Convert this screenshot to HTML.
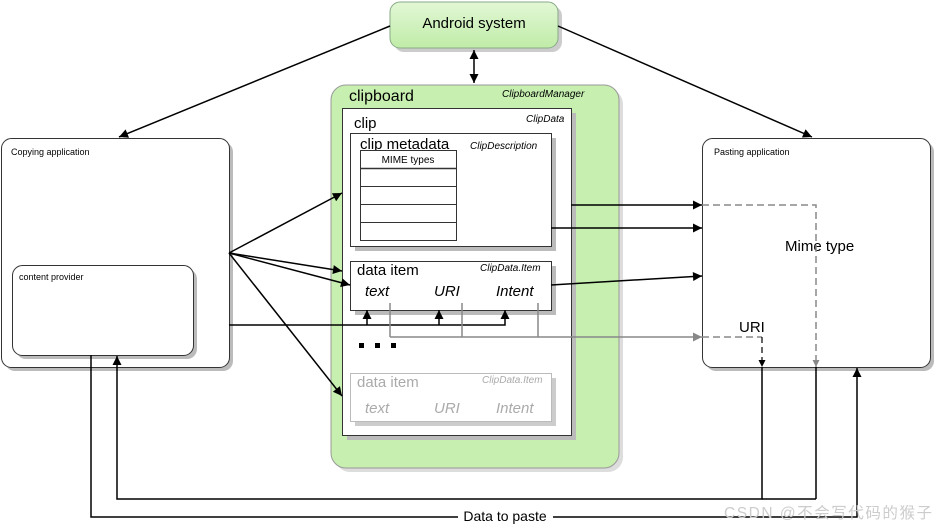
<!DOCTYPE html>
<html><head><meta charset="utf-8"><style>
html,body{margin:0;padding:0;background:#fff;}
svg{display:block;font-family:"Liberation Sans",Arial,sans-serif;}
</style></head><body>
<svg width="936" height="527" viewBox="0 0 936 527" xmlns="http://www.w3.org/2000/svg">
<defs>
<marker id="a" viewBox="0 0 10 10" refX="10" refY="5" markerWidth="12" markerHeight="9" markerUnits="userSpaceOnUse" orient="auto"><path d="M0,0L10,5L0,10z" fill="#000"/></marker>
<marker id="ab" viewBox="0 0 10 10" refX="0" refY="5" markerWidth="12" markerHeight="9" markerUnits="userSpaceOnUse" orient="auto"><path d="M10,0L0,5L10,10z" fill="#000"/></marker>
<marker id="g" viewBox="0 0 10 10" refX="10" refY="5" markerWidth="12" markerHeight="9" markerUnits="userSpaceOnUse" orient="auto"><path d="M0,0L10,5L0,10z" fill="#888"/></marker>
<marker id="s" viewBox="0 0 10 10" refX="10" refY="5" markerWidth="7" markerHeight="7" markerUnits="userSpaceOnUse" orient="auto"><path d="M0,0L10,5L0,10z" fill="#000"/></marker>
<marker id="sg" viewBox="0 0 10 10" refX="10" refY="5" markerWidth="7" markerHeight="7" markerUnits="userSpaceOnUse" orient="auto"><path d="M0,0L10,5L0,10z" fill="#888"/></marker>
<linearGradient id="gr" x1="0" y1="0" x2="0" y2="1"><stop offset="0" stop-color="#e2f7d5"/><stop offset="1" stop-color="#c0eca8"/></linearGradient>
</defs>
<rect x="394" y="6" width="168" height="46" rx="10" fill="#ccc"/>
<rect x="390" y="2" width="168" height="46" rx="10" fill="url(#gr)" stroke="#8a8" stroke-width="1"/>
<text x="474" y="28" font-size="15" text-anchor="middle">Android system</text>
<line x1="390" y1="26" x2="119" y2="137" stroke="#000" stroke-width="1.5" marker-end="url(#a)"/>
<line x1="558" y1="26" x2="812" y2="137" stroke="#000" stroke-width="1.5" marker-end="url(#a)"/>
<line x1="474" y1="50" x2="474" y2="83" stroke="#000" stroke-width="1.5" marker-end="url(#a)" marker-start="url(#ab)"/>
<rect x="335" y="89" width="288" height="383" rx="15" fill="#ddd"/>
<rect x="331" y="85" width="288" height="383" rx="15" fill="#c6efb0" stroke="#999"/>
<text x="349" y="101" font-size="16">clipboard</text>
<text x="502" y="97" font-size="10" font-style="italic">ClipboardManager</text>
<rect x="347" y="113" width="229" height="327" fill="#bbb"/>
<rect x="342.5" y="108.5" width="229" height="327" fill="#fff" stroke="#333"/>
<text x="354" y="128" font-size="15">clip</text>
<text x="526" y="122" font-size="10" font-style="italic">ClipData</text>
<rect x="355" y="138" width="201" height="113" fill="#bbb"/>
<rect x="350.5" y="133.5" width="201" height="113" fill="#fff" stroke="#333"/>
<text x="360" y="149" font-size="15">clip metadata</text>
<text x="470" y="149" font-size="10" font-style="italic">ClipDescription</text>
<rect x="360.5" y="150.5" width="96" height="90" fill="#fff" stroke="#333"/>
<line x1="360" y1="168.5" x2="457" y2="168.5" stroke="#333" stroke-width="1.5"/>
<line x1="360" y1="186.5" x2="457" y2="186.5" stroke="#333"/>
<line x1="360" y1="204.5" x2="457" y2="204.5" stroke="#333"/>
<line x1="360" y1="222.5" x2="457" y2="222.5" stroke="#333"/>
<text x="408" y="163" font-size="10" text-anchor="middle">MIME types</text>
<rect x="355" y="266" width="201" height="49" fill="#bbb"/>
<rect x="350.5" y="261.5" width="201" height="49" fill="#fff" stroke="#333"/>
<text x="357" y="275" font-size="15">data item</text>
<text x="480" y="271" font-size="10" font-style="italic">ClipData.Item</text>
<text x="365" y="296" font-size="15" font-style="italic">text</text>
<text x="434" y="296" font-size="15" font-style="italic">URI</text>
<text x="496" y="296" font-size="15" font-style="italic">Intent</text>
<rect x="359" y="343" width="5" height="5" fill="#000"/>
<rect x="375" y="343" width="5" height="5" fill="#000"/>
<rect x="391" y="343" width="5" height="5" fill="#000"/>
<rect x="355" y="378" width="201" height="48" fill="#ccc"/>
<rect x="350.5" y="373.5" width="201" height="48" fill="#fff" stroke="#bbb"/>
<text x="357" y="387" font-size="15" fill="#aaa">data item</text>
<text x="482" y="383" font-size="10" font-style="italic" fill="#aaa">ClipData.Item</text>
<text x="365" y="413" font-size="15" font-style="italic" fill="#aaa">text</text>
<text x="434" y="413" font-size="15" font-style="italic" fill="#aaa">URI</text>
<text x="496" y="413" font-size="15" font-style="italic" fill="#aaa">Intent</text>
<rect x="5" y="142" width="228" height="229" rx="10" fill="#bbb"/>
<rect x="1.5" y="138.5" width="228" height="229" rx="10" fill="#fff" stroke="#333"/>
<text x="11" y="155" font-size="9">Copying application</text>
<rect x="16" y="269" width="181" height="90" rx="10" fill="#bbb"/>
<rect x="12.5" y="265.5" width="181" height="90" rx="10" fill="#fff" stroke="#333"/>
<text x="19" y="280" font-size="9">content provider</text>
<rect x="706" y="142" width="228" height="229" rx="10" fill="#bbb"/>
<rect x="702.5" y="138.5" width="228" height="229" rx="10" fill="#fff" stroke="#333"/>
<text x="714" y="155" font-size="9">Pasting application</text>
<text x="785" y="251" font-size="15">Mime type</text>
<text x="739" y="332" font-size="15">URI</text>
<g stroke="#000" stroke-width="1.5" fill="none">
<line x1="229" y1="253" x2="342" y2="193" marker-end="url(#a)"/>
<line x1="229" y1="253" x2="342" y2="271" marker-end="url(#a)"/>
<line x1="229" y1="253" x2="350" y2="285" marker-end="url(#a)"/>
<line x1="229" y1="253" x2="342" y2="396" marker-end="url(#a)"/>
<polyline points="229,325 505,325 505,310" marker-end="url(#a)"/>
<line x1="367" y1="325" x2="367" y2="310" marker-end="url(#a)"/>
<line x1="439" y1="325" x2="439" y2="310" marker-end="url(#a)"/>
<line x1="571" y1="205" x2="702" y2="205" marker-end="url(#a)"/>
<line x1="551" y1="228" x2="702" y2="228" marker-end="url(#a)"/>
<line x1="551" y1="285" x2="702" y2="276" marker-end="url(#a)"/>
</g>
<g stroke="#888" stroke-width="1.5" fill="none">
<line x1="390" y1="303" x2="390" y2="337"/>
<line x1="462" y1="303" x2="462" y2="337"/>
<line x1="538" y1="303" x2="538" y2="337"/>
<line x1="390" y1="337" x2="702" y2="337" marker-end="url(#g)"/>
<polyline points="702,205 816,205 816,367" stroke-dasharray="7,4" marker-end="url(#sg)"/>
<polyline points="702,337 762,337" stroke-dasharray="7,4"/>
</g>
<line x1="762" y1="337" x2="762" y2="367" stroke="#000" stroke-width="1.2" stroke-dasharray="6,4" marker-end="url(#s)"/>
<g stroke="#000" stroke-width="1.5" fill="none">
<polyline points="762,367 762,499 117,499 117,356" marker-end="url(#a)"/>
<line x1="816" y1="367" x2="816" y2="499"/>
<line x1="762" y1="499" x2="816" y2="499"/>
<polyline points="91,355 91,517 857,517 857,368" marker-end="url(#a)"/>
</g>
<rect x="458" y="508" width="95" height="16" fill="#fff"/>
<text x="505" y="521" font-size="14" text-anchor="middle">Data to paste</text>
<text x="724" y="518" font-size="15.5" fill="#ccc" textLength="208" font-family="Liberation Sans, Noto Sans CJK SC, sans-serif">CSDN @不会写代码的猴子</text>
</svg>
</body></html>
